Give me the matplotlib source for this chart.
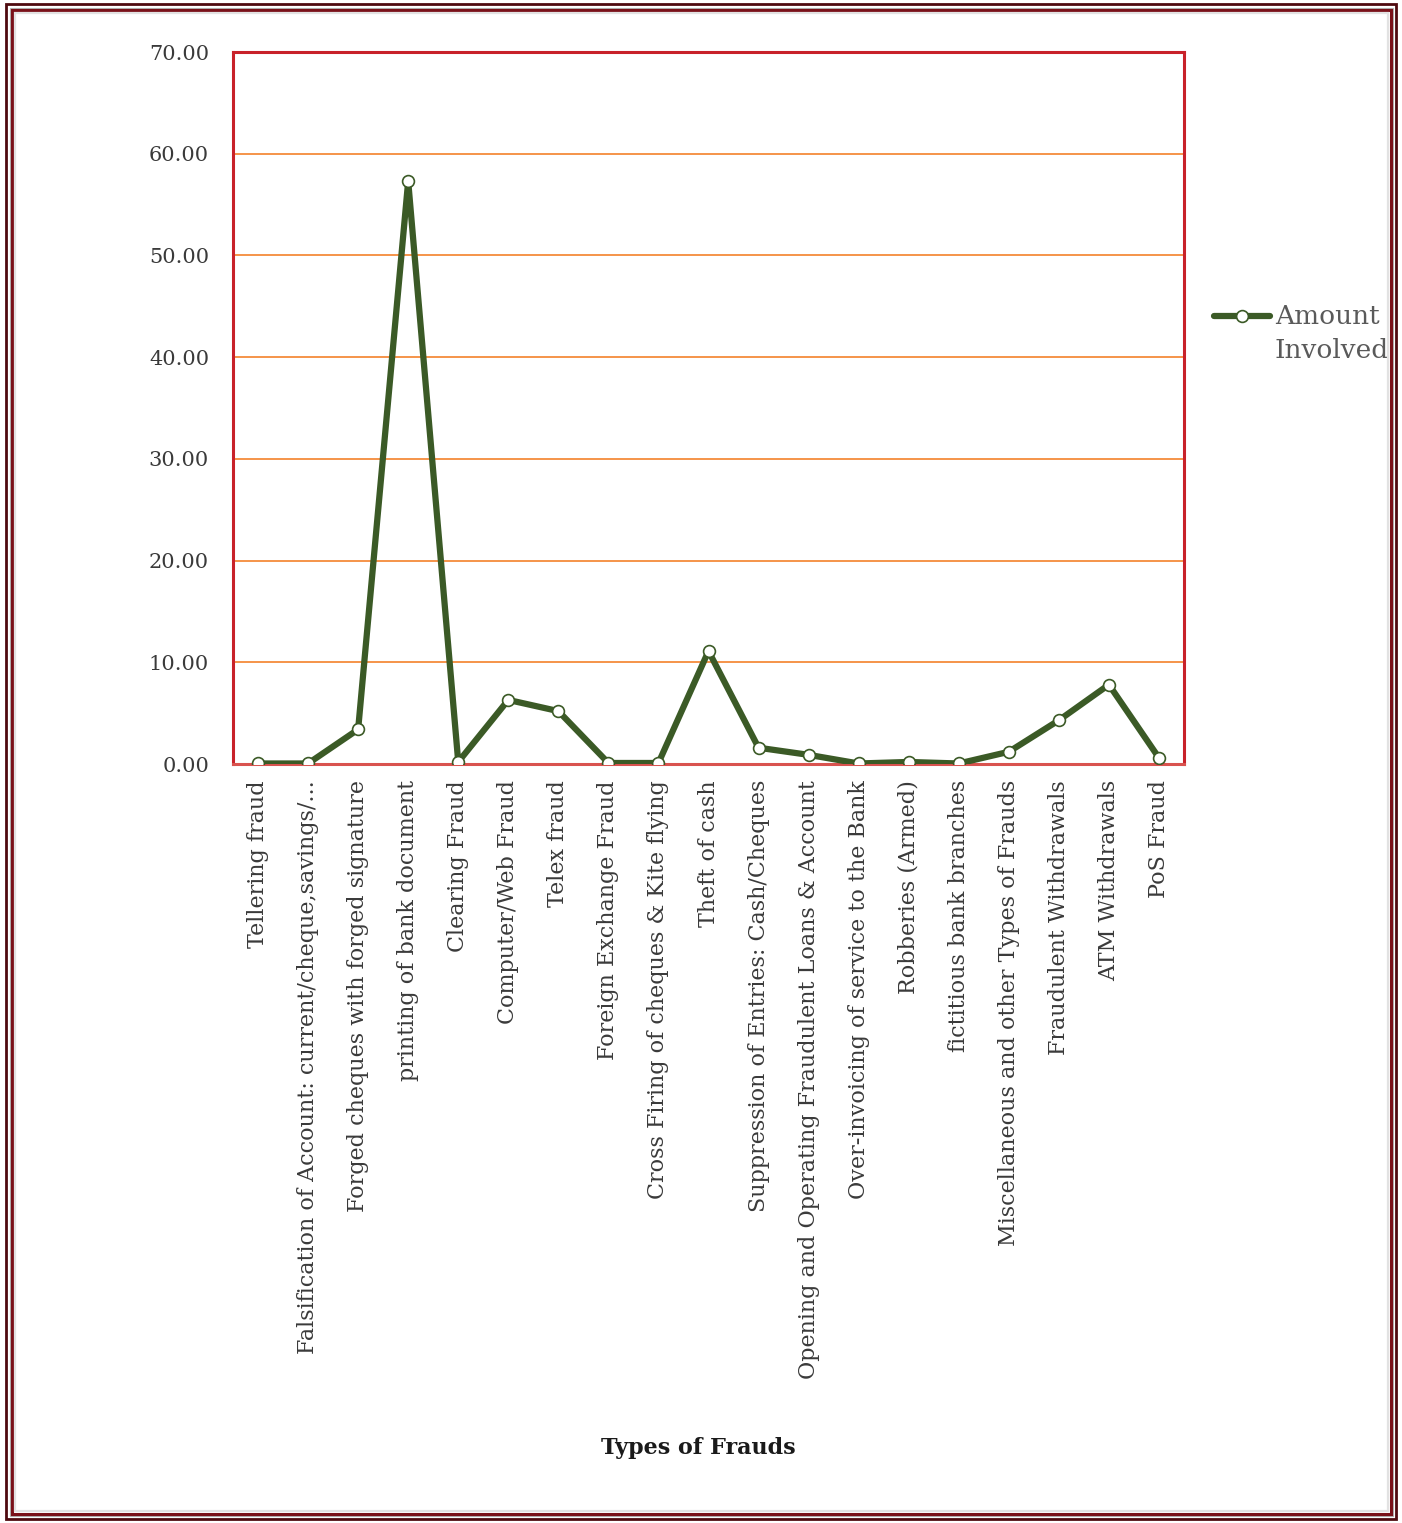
import matplotlib
matplotlib.use("Agg")
import matplotlib.pyplot as plt
from matplotlib.patches import Rectangle
from matplotlib.lines import Line2D

# Fraud categories and the amount involved in each
categories = [
    "Tellering fraud",
    "Falsification of Account: current/cheque,savings/...",
    "Forged cheques with forged signature",
    "printing of bank document",
    "Clearing Fraud",
    "Computer/Web Fraud",
    "Telex fraud",
    "Foreign Exchange Fraud",
    "Cross Firing of cheques & Kite flying",
    "Theft of cash",
    "Suppression of Entries: Cash/Cheques",
    "Opening and Operating Fraudulent Loans & Account",
    "Over-invoicing of service to the Bank",
    "Robberies (Armed)",
    "fictitious bank branches",
    "Miscellaneous and other Types of Frauds",
    "Fraudulent Withdrawals",
    "ATM Withdrawals",
    "PoS Fraud",
]
amount_involved = [0.05, 0.05, 3.4, 57.3, 0.2, 6.3, 5.2, 0.1, 0.1, 11.1,
                   1.6, 0.9, 0.05, 0.2, 0.05, 1.2, 4.3, 7.8, 0.6]
y_ticks = [0, 10, 20, 30, 40, 50, 60, 70]
y_tick_labels = ["0.00", "10.00", "20.00", "30.00", "40.00", "50.00", "60.00", "70.00"]
series_name = ["Amount", "Involved"]

W, H = 1402, 1523
fig = plt.figure(figsize=(W / 100, H / 100), dpi=100)
fig.patch.set_facecolor("white")

serif = ["DejaVu Serif"]
text_col = "#3a3a3a"
green = "#3b5a26"
grid_col = "#f5944a"
red = "#c8222a"
PX = 72 / 100  # points per pixel

ax = fig.add_axes([233 / W, 1 - 764 / H, (1184 - 233) / W, (764 - 52) / H])
x = list(range(len(categories)))
line_style = dict(color=green, lw=4.5, marker="o", markersize=8.5,
                  markerfacecolor="white", markeredgecolor=green,
                  markeredgewidth=1.2, solid_joinstyle="round")
ax.plot(x, amount_involved, zorder=3, **line_style)

ax.set_xlim(-0.5, len(categories) - 0.5)
ax.set_ylim(0, 70)
ax.set_yticks(y_ticks)
ax.set_yticklabels(y_tick_labels, fontfamily=serif, fontsize=15, color=text_col)
ax.set_xticks(x)
ax.set_xticklabels(categories, rotation=90, ha="center", va="top",
                   fontfamily=serif, fontsize=16, color=text_col)
ax.tick_params(axis="y", length=0, pad=24 * PX)
ax.tick_params(axis="x", length=0, pad=16 * PX)
ax.grid(axis="y", color=grid_col, lw=1.4, zorder=1)
ax.set_axisbelow(True)
for s in ax.spines.values():
    s.set_color(red)
    s.set_linewidth(2.2)
ax.spines["bottom"].set_color("#d9534f")

fig.text(698 / W, 1 - 1448 / H, "Types of Frauds", ha="center", va="center",
         fontfamily=serif, fontsize=16, fontweight="bold", color="#1a1a1a")

# Series key to the right of the plot area
ly = 1 - 316 / H
fig.add_artist(Line2D([1214 / W, 1270 / W], [ly, ly], transform=fig.transFigure,
                      color=green, lw=4.5, solid_capstyle="round"))
fig.add_artist(Line2D([1242 / W], [ly], transform=fig.transFigure, linestyle="none",
                      marker="o", markersize=8.5, markerfacecolor="white",
                      markeredgecolor=green, markeredgewidth=1.2))
fig.text(1275 / W, ly, series_name[0], ha="left", va="center",
         fontfamily=serif, fontsize=19, color="#5a5a5a")
fig.text(1275 / W, 1 - 350 / H, series_name[1], ha="left", va="center",
         fontfamily=serif, fontsize=19, color="#5a5a5a")

# Page frame around the chart
def frame(x0, y0, x1, y1, color, lw):
    fig.add_artist(Rectangle((x0 / W, 1 - y1 / H), (x1 - x0) / W, (y1 - y0) / H,
                             transform=fig.transFigure, fill=False,
                             edgecolor=color, lw=lw, zorder=10))

frame(6, 4, 1396, 1519, "#4e0a0f", 2.0)
frame(9.5, 7.5, 1392.5, 1515.5, "#b0b0b0", 0.8)
frame(11.5, 9.5, 1390.5, 1513.5, "#7a1119", 2.2)
frame(14.5, 12.5, 1387.5, 1510.5, "#e2e2e2", 1.6)

fig.savefig("out.png", dpi=100, facecolor="white")
